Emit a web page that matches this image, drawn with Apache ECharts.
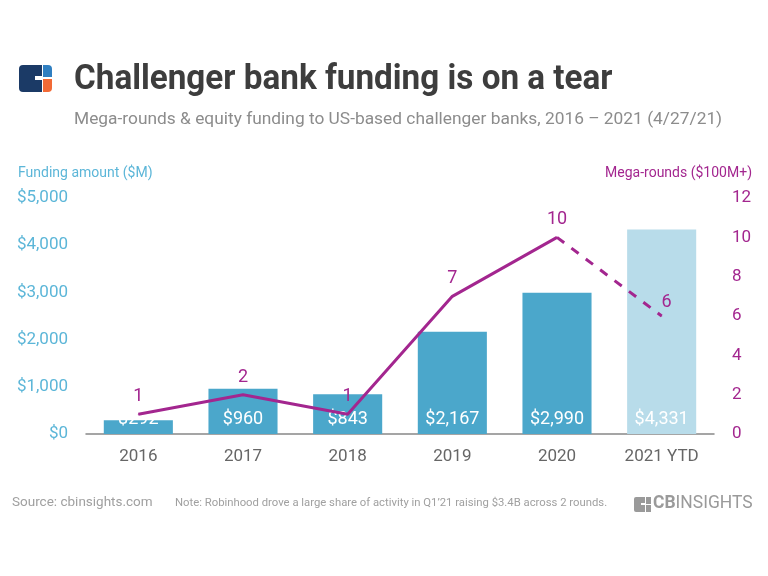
<!DOCTYPE html>
<html>
<head>
<meta charset="utf-8">
<script src="https://cdn.jsdelivr.net/npm/echarts@6/dist/echarts.min.js"></script>
<style>html,body{margin:0;padding:0;background:#fff}#c{width:768px;height:576px}</style>
</head>
<body>
<div id="c"></div>
<script>
var categories = ['2016', '2017', '2018', '2019', '2020', '2021 YTD'];
var funding = [292, 960, 843, 2167, 2990, 4331];
var megaRounds = [1, 2, 1, 7, 10, 6];
var leftTicks = ['$0', '$1,000', '$2,000', '$3,000', '$4,000', '$5,000'];

var FONT = 'Roboto, "Noto Sans", sans-serif';
var BLUE = '#4ba7cb', LIGHT = '#b8dcea', PURPLE = '#a3268f', AXISBLUE = '#5cb6d8';

var barData = funding.map(function (v, i) {
  return i === funding.length - 1 ? { value: v, itemStyle: { color: LIGHT } } : v;
});
var solid = megaRounds.map(function (v, i) { return i < megaRounds.length - 1 ? v : null; });
var dashed = megaRounds.map(function (v, i) {
  if (i === megaRounds.length - 2) return { value: v, label: { show: false } };
  if (i === megaRounds.length - 1) return v;
  return null;
});

var chart = echarts.init(document.getElementById('c'));
chart.setOption({
  animation: false,
  textStyle: { fontFamily: FONT },
  grid: { left: 86, right: 54, top: 198, bottom: 142 },
  xAxis: {
    type: 'category', data: categories,
    axisLine: { lineStyle: { color: '#888', width: 1.5 } },
    axisTick: { show: false },
    axisLabel: { color: '#666', fontSize: 17, margin: 14, fontFamily: FONT }
  },
  yAxis: [{
    type: 'value', min: 0, max: 5000, interval: 1000,
    name: 'Funding amount ($M)', nameLocation: 'end', nameGap: 18,
    nameTextStyle: { color: AXISBLUE, fontSize: 14, align: 'left', padding: [0, 0, 0, -68], fontFamily: FONT },
    splitLine: { show: false }, axisLine: { show: false }, axisTick: { show: false },
    axisLabel: { color: AXISBLUE, fontSize: 17, margin: 18, fontFamily: FONT,
      formatter: function (v) { return leftTicks[v / 1000]; } }
  }, {
    type: 'value', min: 0, max: 12, interval: 2,
    name: 'Mega-rounds ($100M+)', nameLocation: 'end', nameGap: 18,
    nameTextStyle: { color: PURPLE, fontSize: 14, align: 'right', padding: [0, -38, 0, 0], fontFamily: FONT },
    splitLine: { show: false }, axisLine: { show: false }, axisTick: { show: false },
    axisLabel: { color: PURPLE, fontSize: 17, margin: 18, fontFamily: FONT }
  }],
  series: [{
    type: 'bar', data: barData, barWidth: '66%', yAxisIndex: 0,
    itemStyle: { color: BLUE },
    label: { show: true, position: 'insideBottom', distance: 6, color: '#fff', fontSize: 18, fontFamily: FONT,
      formatter: function (p) { return '$' + p.value.toLocaleString('en-US'); } },
    z: 1
  }, {
    type: 'line', data: solid, yAxisIndex: 1, symbol: 'circle', showSymbol: true, symbolSize: 1,
    itemStyle: { color: PURPLE },
    lineStyle: { color: PURPLE, width: 3 },
    label: { show: true, position: 'top', distance: 8, color: PURPLE, fontSize: 18, fontFamily: FONT },
    z: 3
  }, {
    type: 'line', data: dashed, yAxisIndex: 1, symbol: 'circle', showSymbol: true, symbolSize: 1,
    itemStyle: { color: PURPLE },
    lineStyle: { color: PURPLE, width: 3, type: [9, 9] },
    label: { show: true, position: 'top', distance: 4, offset: [5, 0], color: PURPLE, fontSize: 18, fontFamily: FONT },
    z: 3
  }],
  graphic: [
    { type: 'rect', shape: { x: 19, y: 65, width: 23, height: 27, r: [4, 0, 0, 4] }, style: { fill: '#1b3a66' } },
    { type: 'rect', shape: { x: 35, y: 76, width: 8, height: 4 }, style: { fill: '#fff' }, z: 10 },
    { type: 'rect', shape: { x: 43, y: 65, width: 9, height: 12, r: [0, 4, 0, 0] }, style: { fill: '#2f7fc1' } },
    { type: 'rect', shape: { x: 43, y: 79, width: 9, height: 13, r: [0, 0, 4, 0] }, style: { fill: '#f26a36' } },
    { type: 'text', left: 74, top: 63, scaleX: 0.95, style: { text: 'Challenger bank funding is on a tear', fill: '#3d3d3d', font: 'bold 35px ' + FONT } },
    { type: 'text', left: 74, top: 111, scaleX: 1.02, style: { text: 'Mega-rounds & equity funding to US-based challenger banks, 2016 \u2013 2021 (4/27/21)', fill: '#8c8c8c', font: '17px ' + FONT } },
    { type: 'text', left: 12, top: 496, style: { text: 'Source: cbinsights.com', fill: '#a0a0a0', font: '13.5px ' + FONT } },
    { type: 'text', left: 175, top: 498, style: { text: 'Note: Robinhood drove a large share of activity in Q1\u201921 raising $3.4B across 2 rounds.', fill: '#a0a0a0', font: '11.3px ' + FONT } },
    { type: 'rect', shape: { x: 634, y: 497, width: 11, height: 15, r: [2, 0, 0, 2] }, style: { fill: '#9a9a9a' } },
    { type: 'rect', shape: { x: 641, y: 503, width: 4, height: 2 }, style: { fill: '#fff' }, z: 10 },
    { type: 'rect', shape: { x: 646, y: 497, width: 5, height: 7 }, style: { fill: '#9a9a9a' } },
    { type: 'rect', shape: { x: 646, y: 505, width: 5, height: 7 }, style: { fill: '#9a9a9a' } },
    { type: 'text', left: 653, top: 494, scaleX: 0.92, style: { text: '{b|CB}{r|INSIGHTS}', rich: { b: { fill: '#9a9a9a', font: 'bold 19px ' + FONT }, r: { fill: '#9a9a9a', font: '19px ' + FONT } } } }
  ]
});
</script>
</body>
</html>
